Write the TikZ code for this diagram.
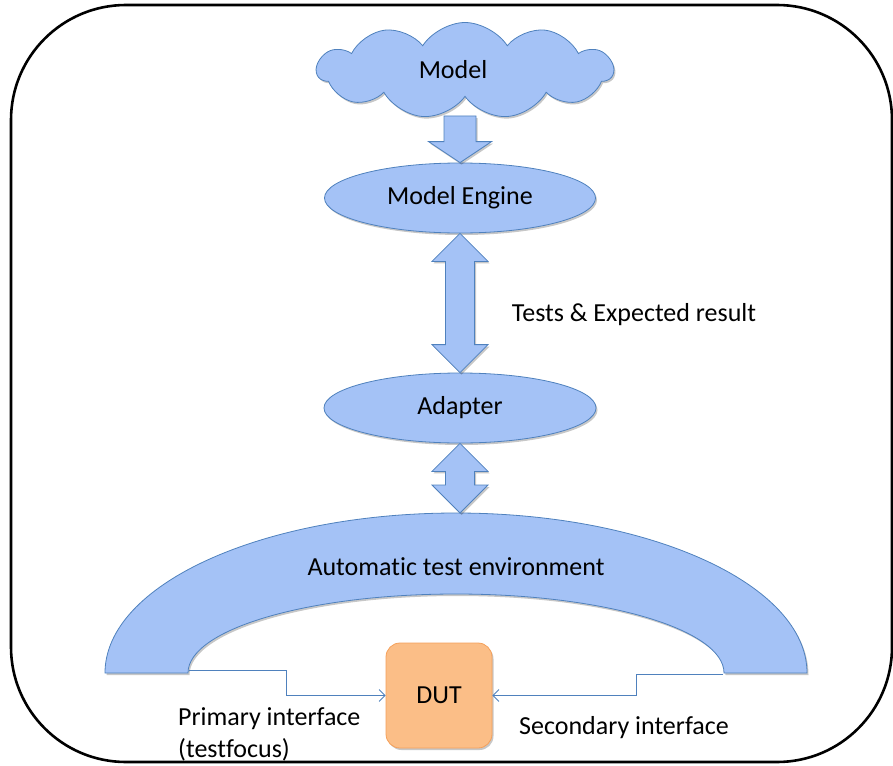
\documentclass[tikz,border=0pt]{standalone}
\usepackage{fontspec}
\setmainfont{Carlito}[Ligatures=NoCommon]
\usetikzlibrary{shapes.symbols,shapes.geometric,arrows.meta,shadows,calc}
\definecolor{blockfill}{RGB}{164,194,246}
\definecolor{blockline}{RGB}{79,129,189}
\definecolor{dutfill}{RGB}{251,190,135}
\definecolor{dutline}{RGB}{245,160,90}
\tikzset{
  softshadow/.style={drop shadow={shadow xshift=1.5pt,shadow yshift=-2pt,opacity=0.22,fill=black}},
  blockshape/.style={fill=blockfill,draw=blockline,line width=0.8pt,softshadow},
  label text/.style={inner sep=0pt,text=black},
  % block arrow with one head, pointing from start to target (vertical)
  downarrow/.style={blockshape,to path={let \p1=(\tikztostart),\p2=(\tikztotarget) in
    (\x1-16pt,\y1) -- (\x1+16pt,\y1) -- (\x1+16pt,\y2+21pt) -- (\x1+31.5pt,\y2+21pt)
    -- (\x1,\y2) -- (\x1-31.5pt,\y2+21pt) -- (\x1-16pt,\y2+21pt) -- cycle}},
  % block arrow with heads at both ends (vertical)
  twowayarrow/.style={blockshape,to path={let \p1=(\tikztostart),\p2=(\tikztotarget) in
    (\x1,\y1) -- (\x1+28pt,\y1-28pt) -- (\x1+14.5pt,\y1-28pt) -- (\x1+14.5pt,\y2+28pt)
    -- (\x1+28pt,\y2+28pt) -- (\x1,\y2) -- (\x1-28pt,\y2+28pt) -- (\x1-14.5pt,\y2+28pt)
    -- (\x1-14.5pt,\y1-28pt) -- (\x1-28pt,\y1-28pt) -- cycle}},
  iface/.style={draw=blockline,line width=0.8pt,-{Straight Barb[length=6pt,width=12pt,line width=0.8pt]}}
}
\begin{document}
\begin{tikzpicture}[x=1pt,y=-1pt,font=\fontsize{26}{32}\selectfont]
\useasboundingbox (0,0) rectangle (893,765);

% outer frame
\draw[line width=2.6pt,rounded corners=115pt] (11,5) rectangle (892,762);

% model cloud
\node[blockshape,cloud,cloud puffs=11,cloud puff arc=115,aspect=3.1,
      minimum width=296,minimum height=96,inner sep=0pt] (model) at (465,70.5) {};
\node[label text] (modeltext) at (453,70) {Model};
\coordinate (cloudbase) at (460,116);

% engine and adapter
\node[blockshape,ellipse,minimum width=271,minimum height=70,inner sep=0pt] (engine) at (460,198) {Model Engine};
\node[blockshape,ellipse,minimum width=272,minimum height=70,inner sep=0pt] (adapter) at (460,408) {Adapter};

% automatic test environment (block arc)
\path[blockshape] (105,673) arc[start angle=180,end angle=0,x radius=351pt,y radius=160pt]
  -- (724,673) arc[start angle=0,end angle=180,x radius=268pt,y radius=79pt] -- cycle;
\node[label text] (env) at (456,567) {Automatic test environment};
\coordinate (archtop) at (460,513);
\coordinate (archL) at (189,670);
\coordinate (archR) at (723,674);

% block arrows
\path[downarrow] (cloudbase) to (engine.north);
\path[twowayarrow] (engine.south) to (adapter.north);
\path[twowayarrow] (adapter.south) to (archtop);
\node[label text] (tests) at (634,315) {Tests \& Expected result};

% device under test
\node[fill=dutfill,draw=dutline,line width=0.8pt,rounded corners=14pt,softshadow,
      minimum width=106,minimum height=105] (dut) at (439,695.5) {DUT};

% interfaces
\draw[iface] (archL) -- ++(97,0) |- (dut.west);
\draw[iface] (archR) -- ++(-87,0) |- (dut.east);
\node[label text,align=left,anchor=west] (primary) at (178,734) {Primary interface\\(testfocus)};
\node[label text] (secondary) at (624,728) {Secondary interface};
\end{tikzpicture}
\end{document}
